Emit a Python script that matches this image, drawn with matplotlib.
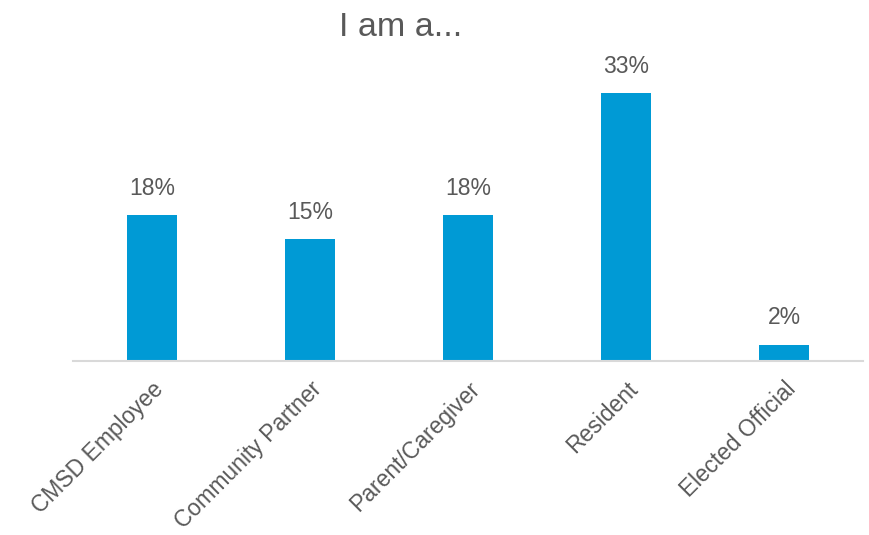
import matplotlib
matplotlib.use("Agg")
import matplotlib.pyplot as plt

# data
categories = ["CMSD Employee", "Community Partner", "Parent/Caregiver",
              "Resident", "Elected Official"]
shares = [18, 15, 18, 33, 2]
value_labels = ["18%", "15%", "18%", "33%", "2%"]

BAR = "#009ad5"
INK = "#595959"
BASE = "#d9d9d9"

plt.rcParams["font.family"] = ["Liberation Sans", "DejaVu Sans"]

fig = plt.figure(figsize=(8.69, 5.35), dpi=100)
ax = fig.add_axes([73 / 869, 1 - 361 / 535, 790 / 869, (361 - 77) / 535])

x = list(range(len(categories)))
bars = ax.bar(x, shares, width=0.315, color=BAR, zorder=2)
ax.set_xlim(-0.5, len(categories) - 0.5)
ax.set_ylim(0, 35)

for b, lab in zip(bars, value_labels):
    ax.annotate(lab, (b.get_x() + b.get_width() / 2, b.get_height()),
                xytext=(0, 11), textcoords="offset points",
                ha="center", va="bottom", fontsize=16.5, color=INK)

ax.set_xticks(x)
ax.set_xticklabels(categories, rotation=45, ha="right",
                   rotation_mode="anchor", fontsize=16.5, color=INK)
ax.tick_params(axis="x", length=0, pad=12)
ax.set_yticks([])
for s in ("top", "right", "left"):
    ax.spines[s].set_visible(False)
ax.spines["bottom"].set_color(BASE)
ax.spines["bottom"].set_linewidth(1.5)

fig.text(401 / 869, 1 - 36 / 535, "I am a...", ha="center", va="baseline",
         fontsize=24.5, color=INK)

fig.savefig("out.png", dpi=100)
